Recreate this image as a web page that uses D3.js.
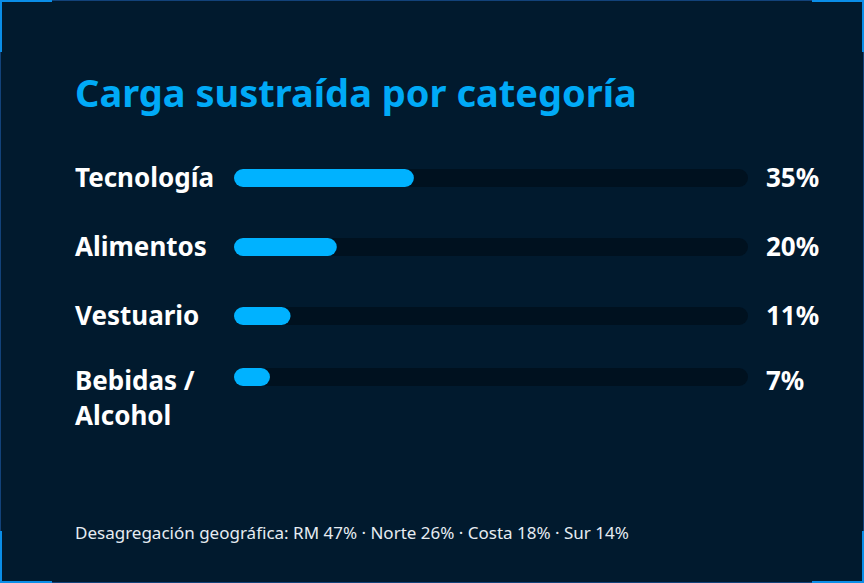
<!DOCTYPE html>
<html>
<head>
<meta charset="utf-8">
<script src="https://cdn.jsdelivr.net/npm/d3@7"></script>
<style>
  html, body { margin: 0; padding: 0; background: #011a2e; }
  svg { display: block; }
  text { font-family: "Noto Sans", "Open Sans", sans-serif; }
</style>
</head>
<body>
<svg id="chart"></svg>
<script>
// data
const title = "Carga sustraída por categoría";
const categories = ["Tecnología", "Alimentos", "Vestuario", "Bebidas / Alcohol"];
const labelLines = [["Tecnología"], ["Alimentos"], ["Vestuario"], ["Bebidas /", "Alcohol"]];
const shares = [35, 20, 11, 7];
const footnote = "Desagregación geográfica: RM 47% · Norte 26% · Costa 18% · Sur 14%";

const width = 864;
const height = 583;

const svg = d3.select("#chart")
  .attr("width", width)
  .attr("height", height);

// background + frame
svg.append("rect")
  .attr("width", width)
  .attr("height", height)
  .attr("fill", "#011a2e");

svg.append("rect")
  .attr("x", 0.5)
  .attr("y", 0.5)
  .attr("width", width - 1)
  .attr("height", height - 1)
  .attr("fill", "none")
  .attr("stroke", "#12427a")
  .attr("stroke-width", 1);

// corner brackets
const arm = 52;
const corners = [
  [[0, arm], [0, 0], [arm, 0]],
  [[width - arm, 0], [width, 0], [width, arm]],
  [[0, height - arm], [0, height], [arm, height]],
  [[width - arm, height], [width, height], [width, height - arm]]
];
svg.selectAll(".corner")
  .data(corners)
  .enter().append("path")
  .attr("class", "corner")
  .attr("d", d => d3.line()(d))
  .attr("fill", "none")
  .attr("stroke", "#0a8ee8")
  .attr("stroke-width", 4);

// title
svg.append("text")
  .attr("x", 75)
  .attr("y", 107)
  .attr("fill", "#00aaf7")
  .attr("font-size", 38)
  .attr("font-weight", 700)
  .text(title);

// scales
const x = d3.scaleLinear()
  .domain([0, 100])
  .range([234, 748]);

const rowTop = d3.scaleOrdinal()
  .domain(categories)
  .range([169, 238, 307, 368]);

const barH = 18;

const rows = svg.selectAll(".row")
  .data(categories.map((c, i) => ({ name: c, lines: labelLines[i], value: shares[i] })))
  .enter().append("g")
  .attr("class", "row")
  .attr("transform", d => `translate(0,${rowTop(d.name)})`);

// baseline of first text line, relative to the bar top
const baseline = d => d.lines.length > 1 ? 22 : 17.5;

// track
rows.append("rect")
  .attr("x", x(0))
  .attr("y", 0)
  .attr("width", x(100) - x(0))
  .attr("height", barH)
  .attr("rx", barH / 2)
  .attr("fill", "#00111f");

// fill
rows.append("rect")
  .attr("x", x(0))
  .attr("y", 0)
  .attr("width", d => x(d.value) - x(0))
  .attr("height", barH)
  .attr("rx", barH / 2)
  .attr("fill", "#00b2ff");

// labels
rows.append("text")
  .attr("x", 75)
  .attr("y", baseline)
  .attr("fill", "#ffffff")
  .attr("font-size", 26)
  .attr("font-weight", 700)
  .selectAll("tspan")
  .data(d => d.lines)
  .enter().append("tspan")
  .attr("x", 75)
  .attr("dy", (d, i) => i === 0 ? 0 : 35)
  .text(d => d);

// values
rows.append("text")
  .attr("x", 766)
  .attr("y", baseline)
  .attr("fill", "#ffffff")
  .attr("font-size", 26)
  .attr("font-weight", 700)
  .text(d => d.value + "%");

// footnote
svg.append("text")
  .attr("x", 75)
  .attr("y", 539)
  .attr("fill", "#e6ecf2")
  .attr("font-size", 17)
  .text(footnote);
</script>
</body>
</html>
